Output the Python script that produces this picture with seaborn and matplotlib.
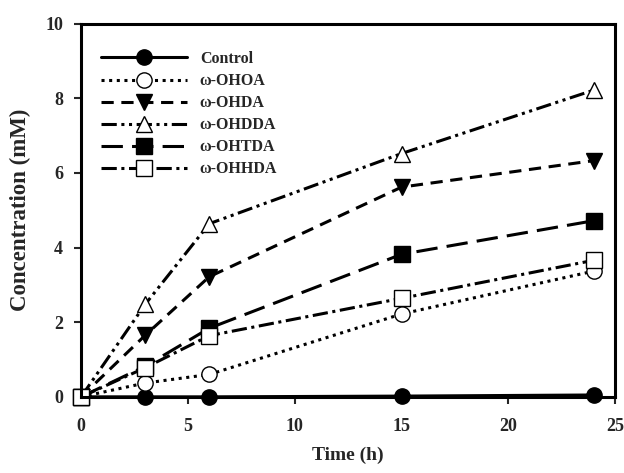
import matplotlib
matplotlib.use('Agg')
import matplotlib.pyplot as plt
import seaborn as sns
import pandas as pd

sns.set_theme(style='white')
plt.rcParams['font.family'] = ['Liberation Serif', 'DejaVu Serif']

# data
time_h = [0, 3, 6, 15, 24]
control = [0.0, 0.0, 0.0, 0.02, 0.05]
ohoa = [0.0, 0.37, 0.6, 2.22, 3.37]
ohda = [0.0, 1.65, 3.22, 5.62, 6.33]
ohdda = [0.0, 2.48, 4.64, 6.52, 8.22]
ohtda = [0.0, 0.82, 1.84, 3.82, 4.72]
ohhda = [0.0, 0.78, 1.64, 2.64, 3.66]

series = {
    'Control': control,
    'ω-OHOA': ohoa,
    'ω-OHDA': ohda,
    'ω-OHDDA': ohdda,
    'ω-OHTDA': ohtda,
    'ω-OHHDA': ohhda,
}

# marker, face colour, dash pattern
styles = {
    'Control': ('o', 'black', (None, None)),
    'ω-OHOA': ('o', 'white', (1, 1.5)),
    'ω-OHDA': ('v', 'black', (4, 2.5)),
    'ω-OHDDA': ('^', 'white', (5, 1.5, 1, 1.5, 1, 1.5)),
    'ω-OHTDA': ('s', 'black', (7, 3)),
    'ω-OHHDA': ('s', 'white', (5, 1.5, 1, 1.5)),
}

fig = plt.figure(figsize=(6.24, 4.73), dpi=100)
ax = fig.add_axes([0.13, 0.161, 0.856, 0.789])

for name, vals in series.items():
    mk, fc, dash = styles[name]
    df = pd.DataFrame({'t': time_h, 'c': vals})
    sns.lineplot(data=df, x='t', y='c', ax=ax, color='black', lw=2.2,
                 marker=mk, markersize=11, markerfacecolor=fc,
                 markeredgecolor='black', markeredgewidth=1.0, label=name)
    line = ax.get_lines()[-1]
    if dash[0] is not None:
        line.set_dashes(dash)
    line.set_clip_on(False)

ax.set_xlim(0, 25)
ax.set_ylim(0, 10)
ax.set_xticks([0, 5, 10, 15, 20, 25])
ax.set_yticks([0, 2, 4, 6, 8, 10])
ax.tick_params(direction='out', length=5, width=1.5, labelsize=13, bottom=True, left=True)
ax.tick_params(axis='x', pad=10)
ax.tick_params(axis='y', pad=8)
for lab in ax.get_xticklabels() + ax.get_yticklabels():
    lab.set_fontweight('bold')
for sp in ax.spines.values():
    sp.set_linewidth(2.2)
    sp.set_color('black')

ax.set_xlabel('Time (h)', fontsize=14, fontweight='bold', labelpad=9)
ax.set_ylabel('Concentration (mM)', fontsize=16.5, fontweight='bold', labelpad=10)

leg = ax.legend(loc='upper left', frameon=False, handlelength=5.4,
                fontsize=11.5, labelspacing=0.38, bbox_to_anchor=(0.01, 0.965))
for t in leg.get_texts():
    t.set_fontweight('bold')

fig.savefig('out.png', dpi=100)
